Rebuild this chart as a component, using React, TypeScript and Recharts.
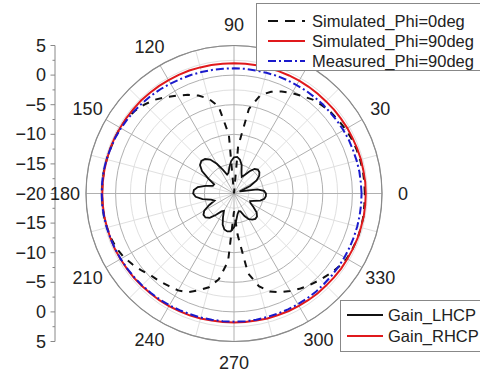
import { RadarChart, PolarGrid, PolarAngleAxis, PolarRadiusAxis, Radar, LineChart, YAxis } from "recharts"

// angle of each sample, degrees (0 = right, counter-clockwise)
const angles = [
  0, 5, 10, 15, 20, 25, 30, 35, 40, 45, 50, 55, 60, 65, 70, 75, 80, 85,
  90, 95, 100, 105, 110, 115, 120, 125, 130, 135, 140, 145, 150, 155, 160, 165, 170, 175,
  180, 185, 190, 195, 200, 205, 210, 215, 220, 225, 230, 235, 240, 245, 250, 255, 260, 265,
  270, 275, 280, 285, 290, 295, 300, 305, 310, 315, 320, 325, 330, 335, 340, 345, 350, 355,
]

const simPhi0 = [
  2.1, 2.1, 2.1, 2.05, 2.0, 1.9, 1.75, 1.55, 1.35, 1.05, 0.7, 0.1, -0.4, -1.0, -1.7, -2.8, -5.5, -12,
  -20, -10, -5.1, -3.4, -2.4, -1.6, -0.9, -0.1, 0.7, 1.3, 1.8, 2.1, 2.2, 2.2, 2.2, 2.25, 2.3, 2.3,
  2.3, 2.3, 2.3, 2.2, 2.1, 1.9, 1.5, 0.9, 0.3, -0.3, -0.6, -0.9, -1.1, -1.6, -2.6, -3.6, -5.3, -8.5,
  -17, -13, -6.3, -3.8, -2.4, -1.6, -1.0, -0.4, 0.1, 0.6, 1.1, 1.6, 2.0, 2.1, 2.2, 2.2, 2.2, 2.1,
]

const simPhi90 = [
  2.25, 2.25, 2.2, 2.2, 2.15, 2.1, 2.1, 2.05, 2.05, 2.0, 2.0, 2.0, 2.0, 2.0, 2.0, 2.0, 2.0, 2.0,
  2.0, 2.0, 2.05, 2.05, 2.1, 2.1, 2.1, 2.15, 2.15, 2.2, 2.2, 2.2, 2.2, 2.25, 2.25, 2.25, 2.25, 2.25,
  2.25, 2.25, 2.25, 2.2, 2.2, 2.2, 2.15, 2.1, 2.1, 2.05, 2.0, 2.0, 1.95, 1.9, 1.9, 1.85, 1.8, 1.8,
  1.8, 1.8, 1.8, 1.85, 1.85, 1.9, 1.9, 1.95, 2.0, 2.0, 2.05, 2.1, 2.1, 2.15, 2.2, 2.2, 2.25, 2.25,
]

const measPhi90 = [
  1.55, 1.5, 1.5, 1.45, 1.4, 1.4, 1.35, 1.3, 1.25, 1.25, 1.2, 1.2, 1.15, 1.15, 1.15, 1.1, 1.1, 1.15,
  1.15, 1.15, 1.2, 1.25, 1.3, 1.35, 1.45, 1.55, 1.65, 1.75, 1.85, 1.95, 2.05, 2.15, 2.2, 2.3, 2.35, 2.35,
  2.35, 2.35, 2.3, 2.25, 2.2, 2.15, 2.1, 2.05, 2.0, 1.95, 1.9, 1.85, 1.8, 1.75, 1.7, 1.7, 1.65, 1.65,
  1.65, 1.65, 1.65, 1.6, 1.6, 1.6, 1.6, 1.6, 1.6, 1.55, 1.55, 1.55, 1.55, 1.55, 1.55, 1.55, 1.55, 1.55,
]

const gainLhcp = [
  -14.6, -14.9, -16.0, -18.5, -19.0, -17.0, -15.6, -14.8, -14.4, -14.3, -14.6, -15.4, -16.4, -16.9, -16.3, -15.0, -14.2, -13.8,
  -13.9, -14.5, -15.5, -16.4, -16.6, -15.6, -14.2, -13.0, -12.4, -12.2, -12.5, -13.4, -15.0, -16.3, -16.2, -15.0, -13.8, -13.2,
  -13.1, -13.5, -14.6, -16.0, -16.5, -15.4, -14.2, -13.7, -13.7, -14.2, -15.3, -16.3, -16.6, -15.6, -14.4, -13.7, -13.5, -13.6,
  -14.3, -15.5, -16.5, -16.9, -16.8, -15.8, -15.0, -14.6, -14.4, -14.5, -15.0, -16.0, -16.8, -17.0, -16.4, -15.4, -14.8, -14.6,
]

const angleTicks = [0, 30, 60, 90, 120, 150, 180, 210, 240, 270, 300, 330]
const minorAngleTicks = [15, 45, 75, 105, 135, 165, 195, 225, 255, 285, 315, 345]
const gainTicks = [-20, -15, -10, -5, 0, 5]
const minorGainTicks = [-17.5, -12.5, -7.5, -2.5, 2.5]
// left scale runs 5 .. -20 (centre) .. 5
const sideTicks = [-25, -22.5, -20, -17.5, -15, -12.5, -10, -7.5, -5, -2.5, 0, 2.5, 5, 7.5, 10, 12.5, 15, 17.5, 20, 22.5, 25]

const GAIN_MIN = -20
const GAIN_MAX = 5
const OUTER_R = 148

const data = angles.map((a, i) => ({
  angle: a,
  sim0: simPhi0[i],
  sim90: simPhi90[i],
  meas90: measPhi90[i],
  lhcp: gainLhcp[i],
}))

const sideData = sideTicks.map((v) => ({ v }))

const FONT = "'Liberation Sans', Arial, sans-serif"

const AngleTick = (props: any) => {
  const { x, y, payload } = props
  // the 60 label sits under the legend box in the original
  if (payload.value === 60) return <g />
  return (
    <text x={x} y={y} textAnchor="middle" dominantBaseline="central" fontSize={18} fontFamily={FONT} fill="#222">
      {payload.value}
    </text>
  )
}

const SideTick = (props: any) => {
  const { x, y, payload } = props
  const v = payload.value
  const major = v % 5 === 0
  const label = Math.abs(v) - 20
  return (
    <g>
      <line x1={x - (major ? 4.5 : 2.5)} x2={x} y1={y} y2={y} stroke="#888" />
      {major && (
        <text x={x - 9} y={y} textAnchor="end" dominantBaseline="central" fontSize={18} fontFamily={FONT} fill="#222">
          {label < 0 ? "\u2212" + Math.abs(label) : String(label)}
        </text>
      )}
    </g>
  )
}

const legendTop = [
  { name: "Simulated_Phi=0deg", color: "#111", dash: "10 7" },
  { name: "Simulated_Phi=90deg", color: "#e0191c", dash: undefined },
  { name: "Measured_Phi=90deg", color: "#1a1acc", dash: "8 3 2 3" },
]
const legendBottom = [
  { name: "Gain_LHCP", color: "#111", dash: undefined },
  { name: "Gain_RHCP", color: "#e0191c", dash: undefined },
]

function LegendBox({ items, left, top, width, height, lineW, rowH, padTop, padLeft, gap }: any) {
  return (
    <div
      style={{
        position: "absolute", left, top, width, height, boxSizing: "border-box",
        border: "1px solid #888", background: "#fff", paddingTop: padTop, paddingLeft: padLeft,
        fontFamily: FONT, fontSize: 16.5, color: "#222",
      }}
    >
      {items.map((it: any) => (
        <div key={it.name} style={{ display: "flex", alignItems: "center", height: rowH, whiteSpace: "nowrap" }}>
          <svg width={lineW} height={6} style={{ marginRight: gap, flex: "none" }}>
            <line x1={0} x2={lineW} y1={3} y2={3} stroke={it.color} strokeWidth={2} strokeDasharray={it.dash} />
          </svg>
          <span style={{ display: "inline-block", height: 18, lineHeight: "18px" }}>{it.name}</span>
        </div>
      ))}
    </div>
  )
}

export default function App() {
  const toR = (v: number) => ((v - GAIN_MIN) / (GAIN_MAX - GAIN_MIN)) * OUTER_R
  return (
    <div style={{ position: "absolute", left: 0, top: 0, width: 480, height: 371, background: "#fff", overflow: "hidden" }}>
      <div style={{ position: "absolute", left: 0, top: 0 }}>
        <LineChart width={80} height={371} data={sideData} margin={{ top: 45.5, bottom: 29.5, left: 0, right: 0 }}>
          <YAxis
            dataKey="v"
            type="number"
            domain={[-25, 25]}
            ticks={sideTicks}
            interval={0}
            width={55}
            tickSize={0}
            tickMargin={0}
            tickLine={false}
            stroke="#888"
            tick={<SideTick />}
          />
        </LineChart>
      </div>
      <div style={{ position: "absolute", left: 0, top: 0 }}>
        <RadarChart
          width={480}
          height={371}
          data={data}
          cx={234}
          cy={193.5}
          innerRadius={0}
          outerRadius={OUTER_R}
          startAngle={0}
          endAngle={360}
          margin={{ top: 0, right: 0, bottom: 0, left: 0 }}
        >
          <PolarGrid
            gridType="circle"
            stroke="#e0e0e0"
            innerRadius={11}
            polarAngles={minorAngleTicks}
            polarRadius={minorGainTicks.map(toR)}
          />
          <PolarAngleAxis
            dataKey="angle"
            type="number"
            domain={[0, 360]}
            ticks={angleTicks}
            tickSize={21}
            tickLine={false}
            tick={<AngleTick />}
            axisLineType="circle"
            axisLine={{ stroke: "#8a8a8a", strokeWidth: 1.2 }}
          />
          <PolarRadiusAxis type="number" domain={[GAIN_MIN, GAIN_MAX]} ticks={gainTicks} tick={false} axisLine={false} />
          <PolarGrid gridType="circle" stroke="#b0b0b0" innerRadius={11} />
          <Radar dataKey="sim0" name="Simulated_Phi=0deg" stroke="#111" strokeWidth={2} strokeDasharray="7 7" fill="none" fillOpacity={0} isAnimationActive={false} />
          <Radar dataKey="lhcp" name="Gain_LHCP" stroke="#111" strokeWidth={1.8} fill="none" fillOpacity={0} isAnimationActive={false} />
          <Radar dataKey="sim90" name="Simulated_Phi=90deg" stroke="#e0191c" strokeWidth={2} fill="none" fillOpacity={0} isAnimationActive={false} />
          <Radar dataKey="meas90" name="Measured_Phi=90deg" stroke="#1a1acc" strokeWidth={2} strokeDasharray="8 3 2 3" fill="none" fillOpacity={0} isAnimationActive={false} />
        </RadarChart>
      </div>
      <LegendBox items={legendTop} left={256} top={3} width={240} height={68} lineW={37} rowH={20} padTop={7} padLeft={11} gap={7} />
      <LegendBox items={legendBottom} left={340} top={300} width={150} height={52} lineW={36} rowH={20.5} padTop={4} padLeft={6} gap={5} />
    </div>
  )
}
